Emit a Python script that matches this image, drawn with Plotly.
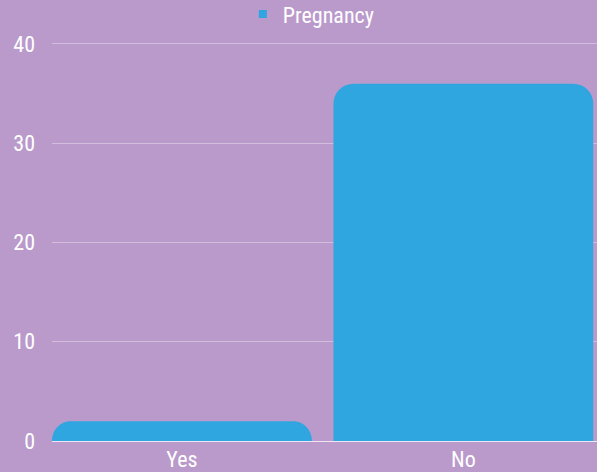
import plotly.graph_objects as go

categories = ["Yes", "No"]
values = [2, 36]
series_name = "Pregnancy"
y_ticks = [0, 10, 20, 30, 40]

BG = "#BA9ACB"
BAR = "#2FA6DF"
FONT = "Roboto Condensed, Liberation Sans Narrow, DejaVu Sans Condensed, Roboto, sans-serif"

fig = go.Figure()

# bars (legend entry drawn by a small square marker trace below)
fig.add_trace(
    go.Bar(
        x=categories,
        y=values,
        name=series_name,
        marker=dict(color=BAR, line=dict(width=0)),
        showlegend=False,
        hoverinfo="x+y",
    )
)
fig.add_trace(
    go.Scatter(
        x=[None],
        y=[None],
        mode="markers",
        name=series_name,
        marker=dict(symbol="square", size=8, color=BAR),
        showlegend=True,
        hoverinfo="skip",
    )
)

fig.update_layout(
    width=597,
    height=472,
    margin=dict(l=52, r=0, t=41, b=31, autoexpand=False),
    paper_bgcolor=BG,
    plot_bgcolor=BG,
    bargap=0.077,
    barcornerradius=20,
    font=dict(family=FONT, size=22, color="white"),
    legend=dict(
        orientation="h",
        x=0.3502,
        xanchor="left",
        y=1.067,
        yanchor="middle",
        font=dict(size=22, color="white"),
        bgcolor="rgba(0,0,0,0)",
    ),
    xaxis=dict(
        range=[-0.4616, 1.4748],
        showgrid=False,
        showline=False,
        zeroline=False,
        ticks="",
        ticklabelstandoff=3,
        automargin=False,
        tickfont=dict(size=22, color="white"),
    ),
    yaxis=dict(
        range=[0, 40.3],
        tickvals=y_ticks,
        showgrid=True,
        gridcolor="rgba(255,255,255,0.35)",
        gridwidth=1,
        zeroline=True,
        zerolinecolor="rgba(255,255,255,0.75)",
        zerolinewidth=1,
        showline=False,
        ticks="",
        ticklabelstandoff=16,
        automargin=False,
        tickfont=dict(size=22, color="white"),
    ),
)

fig.write_html("out.html")
